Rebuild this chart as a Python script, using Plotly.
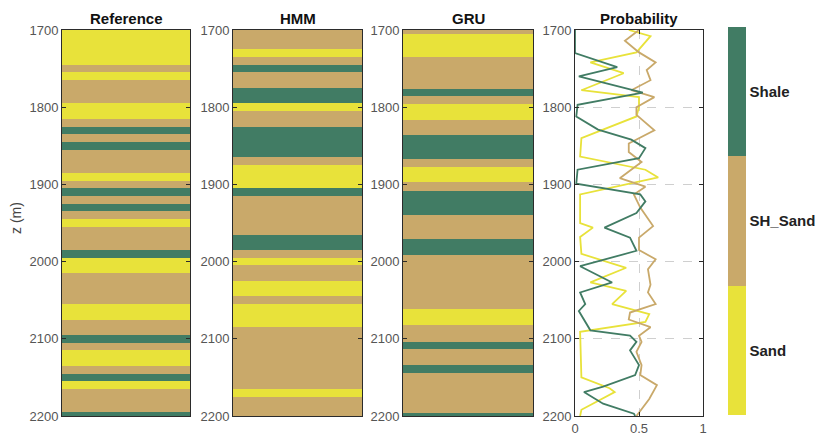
import plotly.graph_objects as go

# facies codes: 1 = Sand, 2 = SH_Sand, 3 = Shale
facies_names = ["Sand", "SH_Sand", "Shale"]
facies_colors = ["#e8e23a", "#c9a96a", "#417c64"]

# layer boundaries (m) and facies of each layer
ref_depth = [1700, 1745, 1755, 1765, 1795, 1815, 1825, 1835, 1845, 1855, 1885, 1895, 1905, 1915, 1925, 1935,
             1945, 1955, 1985, 1995, 2015, 2055, 2075, 2095, 2105, 2115, 2135, 2145, 2155, 2165, 2195, 2200]
ref_facies = [1, 2, 1, 2, 1, 2, 3, 2, 3, 2, 1, 2, 3, 2, 3, 2, 1, 2, 3, 1, 2, 1, 2, 3, 2, 1, 2, 3, 1, 2, 3]

hmm_depth = [1700, 1725, 1735, 1745, 1755, 1775, 1795, 1805, 1825, 1865, 1875, 1905, 1915, 1965, 1985, 1995,
             2005, 2025, 2045, 2055, 2085, 2165, 2175, 2200]
hmm_facies = [2, 1, 2, 3, 2, 3, 1, 2, 3, 2, 1, 3, 2, 3, 2, 1, 2, 1, 2, 1, 2, 1, 2]

gru_depth = [1700, 1705, 1735, 1776, 1786, 1796, 1816, 1836, 1867, 1877, 1897, 1908, 1939, 1971, 1991, 2062,
             2082, 2104, 2113, 2134, 2144, 2196, 2200]
gru_facies = [2, 1, 2, 3, 2, 1, 2, 3, 2, 1, 2, 3, 2, 3, 2, 1, 2, 3, 2, 3, 2, 3]

# probability curves (depth, probability)
sand_z = [1700, 1708, 1729, 1742, 1756, 1778, 1787, 1800, 1812, 1840, 1864, 1881, 1891, 1913, 1950, 1956,
          1968, 1990, 2008, 2027, 2038, 2055, 2068, 2078, 2091, 2150, 2164, 2169, 2192, 2200]
sand_p = [0.42, 0.59, 0.48, 0.12, 0.38, 0.05, 0.50, 0.50, 0.48, 0.05, 0.04, 0.55, 0.65, 0.04, 0.04, 0.14,
          0.04, 0.05, 0.40, 0.12, 0.40, 0.29, 0.58, 0.55, 0.04, 0.05, 0.27, 0.31, 0.05, 0.04]

shsand_z = [1700, 1714, 1729, 1742, 1752, 1765, 1778, 1787, 1800, 1810, 1830, 1847, 1858, 1871, 1892, 1903,
            1913, 1930, 1954, 1969, 1985, 1997, 2010, 2030, 2040, 2055, 2066, 2075, 2085, 2096, 2104, 2117,
            2134, 2147, 2160, 2178, 2200]
shsand_p = [0.50, 0.39, 0.50, 0.63, 0.56, 0.59, 0.44, 0.62, 0.48, 0.48, 0.62, 0.42, 0.42, 0.52, 0.35, 0.55,
            0.46, 0.51, 0.61, 0.50, 0.50, 0.63, 0.57, 0.59, 0.57, 0.63, 0.43, 0.42, 0.59, 0.50, 0.52, 0.48,
            0.52, 0.51, 0.64, 0.58, 0.48]

shale_z = [1700, 1730, 1748, 1760, 1781, 1797, 1812, 1829, 1842, 1853, 1866, 1881, 1899, 1913, 1922, 1937,
           1956, 1969, 1986, 2006, 2027, 2040, 2055, 2064, 2089, 2096, 2104, 2115, 2134, 2147, 2162, 2169,
           2184, 2197, 2200]
shale_p = [0.0, 0.0, 0.33, 0.03, 0.53, 0.02, 0.01, 0.18, 0.44, 0.55, 0.50, 0.02, 0.01, 0.51, 0.55, 0.48,
           0.23, 0.43, 0.48, 0.04, 0.29, 0.04, 0.08, 0.03, 0.12, 0.43, 0.48, 0.43, 0.50, 0.47, 0.22, 0.07,
           0.22, 0.46, 0.47]

depth_ticks = [1700, 1800, 1900, 2000, 2100, 2200]

# page has an 8px body margin, so the figure is a bit smaller and positions are shifted
OFF = 8
W, H = 826 - OFF, 437 - OFF


def fx(px):
    return (px - OFF) / W


def fy(py):
    return 1 - (py - OFF) / H


colorscale = []
for i, c in enumerate(facies_colors):
    colorscale.append([i / 3, c])
    colorscale.append([(i + 1) / 3, c])

fig = go.Figure()

logs = [(ref_depth, ref_facies), (hmm_depth, hmm_facies), (gru_depth, gru_facies)]
for i, (d, f) in enumerate(logs):
    n = str(i + 1) if i > 0 else ""
    fig.add_trace(go.Heatmap(
        x=[0, 1], y=d, z=[[v] for v in f],
        xaxis="x" + n, yaxis="y" + n,
        zmin=0.5, zmax=3.5, colorscale=colorscale,
        showscale=(i == 0), hoverinfo="skip",
        colorbar=dict(
            x=fx(728), xanchor="left", xpad=0, y=fy(221), yanchor="middle", ypad=0,
            len=388 / H, lenmode="fraction", thickness=18, outlinewidth=0,
            tickvals=[1, 2, 3], ticktext=["<b>" + s + "</b>" for s in facies_names],
            ticks="", tickfont=dict(size=15, color="#222222", family="Liberation Sans"),
        ),
    ))

for z, p, c in [(sand_z, sand_p, facies_colors[0]), (shsand_z, shsand_p, facies_colors[1]),
                (shale_z, shale_p, facies_colors[2])]:
    fig.add_trace(go.Scatter(x=p, y=z, mode="lines", xaxis="x4", yaxis="y4",
                             line=dict(color=c, width=1.8), showlegend=False, hoverinfo="skip"))

x_dom = [(62, 190), (233, 362), (403, 533), (575, 703)]
y_dom = [fy(416), fy(30)]
titles = ["Reference", "HMM", "GRU", "Probability"]
tickfont = dict(size=13, color="#555555", family="Liberation Sans")

layout = dict(width=W, height=H, margin=dict(l=0, r=0, t=0, b=0, autoexpand=False),
              paper_bgcolor="white", plot_bgcolor="white", showlegend=False)
annotations = []
for i, (a, b) in enumerate(x_dom):
    n = str(i + 1) if i > 0 else ""
    prob = i == 3
    layout["xaxis" + n] = dict(
        domain=[fx(a), fx(b)], anchor="y" + n, range=[0, 1], automargin=False,
        showline=True, linecolor="#2b2b2b", linewidth=1, mirror="ticks" if prob else True,
        ticks="inside" if prob else "", ticklen=4, tickcolor="#2b2b2b",
        tickvals=[0, 0.5, 1], ticktext=["0", "0.5", "1"],
        showticklabels=prob, tickfont=tickfont,
        showgrid=prob, gridcolor="#cfcfcf", griddash="dash", gridwidth=1,
        zeroline=False, fixedrange=True,
    )
    layout["yaxis" + n] = dict(
        domain=y_dom, anchor="x" + n, range=[2200, 1700], automargin=False,
        showline=True, linecolor="#2b2b2b", linewidth=1, mirror="ticks",
        ticks="inside", ticklen=4, tickcolor="#2b2b2b",
        tickvals=depth_ticks, tickfont=tickfont,
        showgrid=prob, gridcolor="#cfcfcf", griddash="dash", gridwidth=1,
        zeroline=False, fixedrange=True,
    )
    annotations.append(dict(
        text="<b>" + titles[i] + "</b>", x=fx((a + b) / 2), y=y_dom[1], xref="paper", yref="paper",
        xanchor="center", yanchor="bottom", yshift=1, showarrow=False,
        font=dict(size=15, color="#111111", family="Liberation Sans"),
    ))

annotations.append(dict(
    text="z (m)", x=fx(16), y=fy(218), xref="paper", yref="paper", textangle=-90,
    xanchor="center", yanchor="middle", showarrow=False,
    font=dict(size=14, color="#444444", family="Liberation Sans"),
))
layout["annotations"] = annotations

fig.update_layout(**layout)
fig.write_html("out.html")
